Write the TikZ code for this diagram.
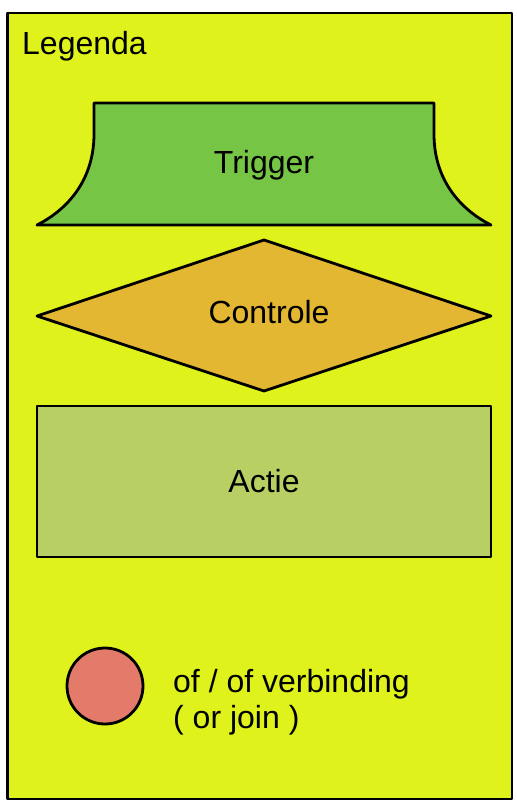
\documentclass[tikz,border=0pt]{standalone}
\usepackage{fontspec}
\setmainfont{Liberation Sans}
\definecolor{bgyel}{RGB}{223,242,28}
\definecolor{trig}{RGB}{118,197,69}
\definecolor{ctrl}{RGB}{228,183,50}
\definecolor{act}{RGB}{184,208,99}
\definecolor{joinc}{RGB}{228,123,106}
\begin{document}
\begin{tikzpicture}[x=1pt,y=-1pt,
  shp/.style={draw=black,line width=2.8pt,line join=round},
  lbl/.style={font=\fontsize{32}{38}\selectfont,inner sep=0pt,anchor=base}]
\useasboundingbox (0,0) rectangle (516,802);
\draw[shp,fill=bgyel] (7.5,13) rectangle (512,799);
\node[lbl,anchor=base west] (legenda) at (22,55) {Legenda};
% Trigger
\filldraw[shp,fill=trig] (94,103) -- (434,103) -- (434,134)
  .. controls (434,184) and (465,212) .. (491,225) -- (37,225)
  .. controls (63,212) and (94,184) .. (94,134) -- cycle;
\node[lbl] (trigger) at (264,174) {Trigger};
% Controle
\filldraw[shp,fill=ctrl] (37,316) -- (264,240) -- (491,316) -- (264,391) -- cycle;
\node[lbl] (controle) at (269,323) {Controle};
% Actie
\filldraw[shp,fill=act] (37,406) rectangle (491,557);
\node[lbl] (actie) at (264,492) {Actie};
% Join
\node[shp,fill=joinc,circle,minimum size=76pt,inner sep=0pt] (join) at (105,686) {};
\node[lbl,anchor=base west] (jt1) at (173,692) {of / of verbinding};
\node[lbl,anchor=base west] (jt2) at (173,728) {( or join )};
\end{tikzpicture}
\end{document}
